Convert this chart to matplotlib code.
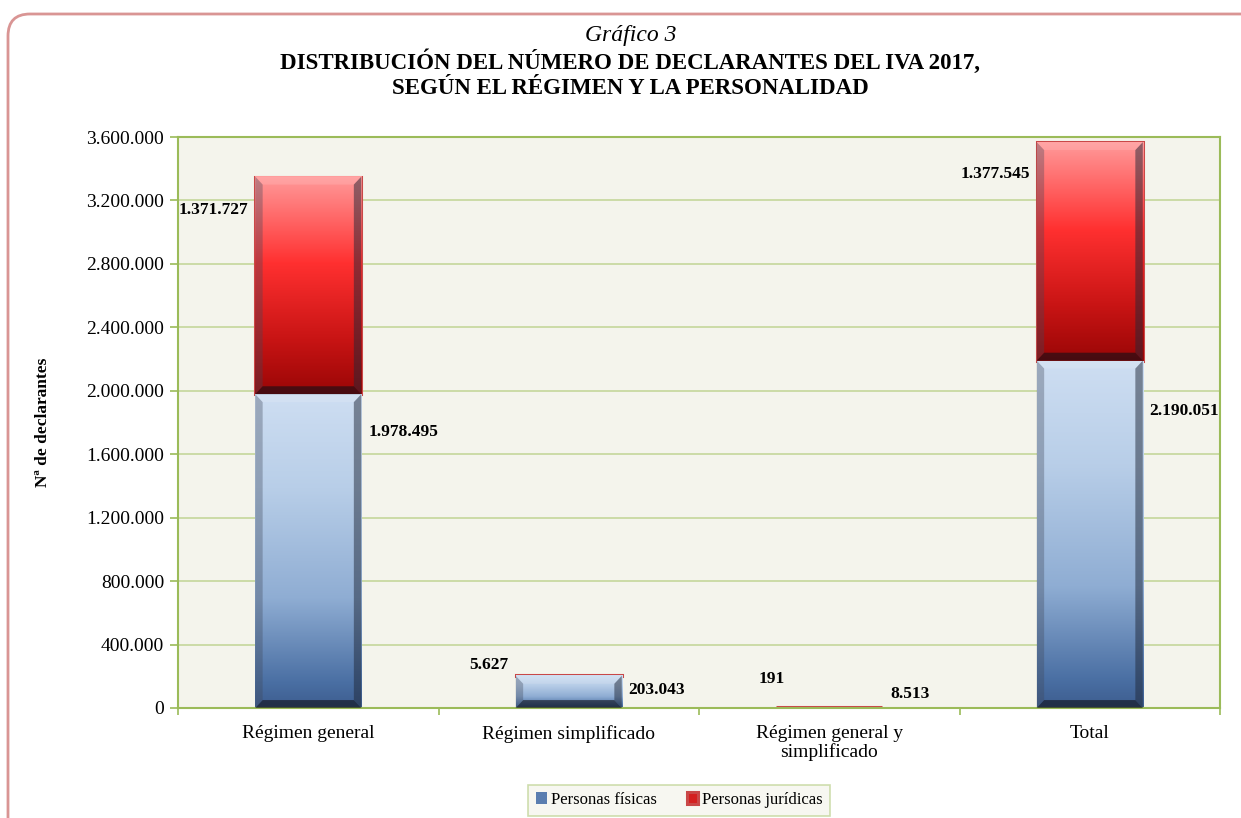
import numpy as np
import matplotlib
matplotlib.use("Agg")
import matplotlib.pyplot as plt
from matplotlib.colors import LinearSegmentedColormap
from matplotlib.patches import FancyBboxPatch, Polygon
from matplotlib.ticker import FuncFormatter, MultipleLocator, FixedLocator

categories = ["Régimen general", "Régimen simplificado", "Régimen general y\nsimplificado", "Total"]
fisicas = [1978495, 203043, 8513, 2190051]
juridicas = [1371727, 5627, 191, 1377545]
series_names = ["Personas físicas", "Personas jurídicas"]

plt.rcParams['font.family'] = ['Liberation Serif', 'DejaVu Serif']

def fmt(v):
    return f"{int(v):,}".replace(",", ".")

fig = plt.figure(figsize=(12.41, 8.18), dpi=100)
fig.patch.set_facecolor("white")

# outer rounded frame
frame = FancyBboxPatch((0.08, -0.6), 13.0, (818 - 14) / 100 + 0.6,
                       boxstyle="round,pad=0,rounding_size=0.22",
                       transform=fig.dpi_scale_trans, facecolor="none",
                       edgecolor="#d99594", linewidth=2.0, zorder=0)
fig.patches.append(frame)

ax = fig.add_axes([178 / 1241, 1 - 708 / 818, (1220 - 178) / 1241, (708 - 137) / 818])
ax.set_facecolor("#f4f4ec")

x = np.arange(len(categories))
width = 0.407
b1 = ax.bar(x, fisicas, width, color="#5a7eb0", label=series_names[0], zorder=2)
b2 = ax.bar(x, juridicas, width, bottom=fisicas, color="#d42020", label=series_names[1],
            edgecolor="#c94848", linewidth=2.2, zorder=2)

ymax = 3600000
ax.set_xlim(-0.5, 3.5)
ax.set_ylim(0, ymax)

blue_cmap = LinearSegmentedColormap.from_list("b", [(0, "#3d5d8f"), (0.08, "#4a6fa3"), (0.35, "#8fadd3"),
                                                    (0.7, "#b8cee8"), (1, "#cedef2")])
red_cmap = LinearSegmentedColormap.from_list("r", [(0, "#9a0606"), (0.25, "#c81414"), (0.6, "#ff3030"),
                                                   (1, "#ff9a9a")])
grad = np.linspace(0, 1, 256).reshape(-1, 1)

def decorate(bars, cmap):
    for p in bars:
        x0, y0 = p.get_x(), p.get_y()
        w, h = p.get_width(), p.get_height()
        if h < 30000:
            continue
        ax.imshow(grad, extent=[x0, x0 + w, y0, y0 + h], origin="lower", aspect="auto",
                  cmap=cmap, zorder=2.5, interpolation="bilinear")
        bw = w * 0.07
        bh = min(50000, h * 0.25)
        ax.add_patch(Polygon([(x0, y0), (x0 + bw, y0 + bh), (x0 + bw, y0 + h - bh), (x0, y0 + h)],
                             closed=True, facecolor="#40485a", alpha=0.35, lw=0, zorder=3))
        ax.add_patch(Polygon([(x0 + w, y0), (x0 + w - bw, y0 + bh), (x0 + w - bw, y0 + h - bh), (x0 + w, y0 + h)],
                             closed=True, facecolor="#202838", alpha=0.5, lw=0, zorder=3))
        ax.add_patch(Polygon([(x0, y0), (x0 + bw, y0 + bh), (x0 + w - bw, y0 + bh), (x0 + w, y0)],
                             closed=True, facecolor="#101018", alpha=0.6, lw=0, zorder=3))
        ax.add_patch(Polygon([(x0, y0 + h), (x0 + bw, y0 + h - bh), (x0 + w - bw, y0 + h - bh), (x0 + w, y0 + h)],
                             closed=True, facecolor="#ffffff", alpha=0.12, lw=0, zorder=3))

decorate(b1, blue_cmap)
decorate(b2, red_cmap)
ax.set_xlim(-0.5, 3.5)
ax.set_ylim(0, ymax)

ax.yaxis.set_major_locator(MultipleLocator(400000))
ax.yaxis.set_major_formatter(FuncFormatter(lambda v, _: fmt(v)))
ax.grid(axis="y", color="#c4d79b", linewidth=1.2, zorder=1)
ax.set_axisbelow(True)
for s in ax.spines.values():
    s.set_color("#9bbb59")
    s.set_linewidth(1.5)

ax.set_xticks(x)
ax.set_xticklabels(categories, fontsize=14, linespacing=1.1)
ax.xaxis.set_minor_locator(FixedLocator([-0.5, 0.5, 1.5, 2.5, 3.5]))
ax.tick_params(axis="x", which="major", length=0, pad=12)
ax.tick_params(axis="x", which="minor", length=5, color="#9bbb59", width=1.2)
ax.tick_params(axis="y", length=6, color="#9bbb59", width=1.2, labelsize=14, pad=4)

ax.set_ylabel("Nª de declarantes", fontsize=12.5, fontweight="bold", labelpad=25)

# data labels (offsets in points relative to segment top corners)
jur_offsets = [(-5, -24), (-5, 7), (6, 20), (-5, -23)]
fis_offsets = [(5, -27), (5, -10), (6, 9), (5, -36)]
for i in range(len(categories)):
    p = b1[i]
    q = b2[i]
    top_f = p.get_y() + p.get_height()
    top_j = q.get_y() + q.get_height()
    ax.annotate(fmt(fisicas[i]), xy=(p.get_x() + p.get_width(), top_f), xytext=fis_offsets[i],
                textcoords="offset points", ha="left", va="center", fontsize=12.5,
                fontweight="bold", zorder=5)
    ax.annotate(fmt(juridicas[i]), xy=(q.get_x(), top_j), xytext=jur_offsets[i],
                textcoords="offset points", ha="right", va="center", fontsize=12.5,
                fontweight="bold", zorder=5)

# titles
fig.text(0.508, 1 - 36 / 818, "Gráfico 3", ha="center", va="center", fontsize=17, style="italic")
fig.text(0.508, 1 - 62 / 818, "DISTRIBUCIÓN DEL NÚMERO DE DECLARANTES DEL IVA 2017,", ha="center",
         va="center", fontsize=16.5, fontweight="bold")
fig.text(0.508, 1 - 89 / 818, "SEGÚN EL RÉGIMEN Y LA PERSONALIDAD", ha="center",
         va="center", fontsize=16.5, fontweight="bold")

leg = fig.legend(handles=[b1, b2], labels=series_names, loc="center",
                 bbox_to_anchor=(679 / 1241, 1 - 800 / 818), ncol=2, fontsize=12,
                 frameon=True, fancybox=False, handlelength=0.7, handleheight=0.7,
                 handletextpad=0.2, columnspacing=1.8, borderpad=0.45, borderaxespad=0)
leg.get_frame().set_edgecolor("#c3d69b")
leg.get_frame().set_facecolor("#f6f6ee")
leg.get_frame().set_linewidth(1.2)

fig.savefig("out.png", dpi=100)
